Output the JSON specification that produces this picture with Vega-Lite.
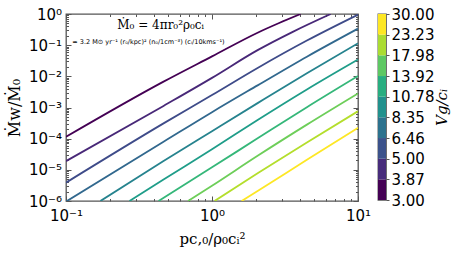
{
  "$schema": "https://vega.github.io/schema/vega-lite/v6.json",
  "padding": {"left": 5, "top": 6, "right": 5, "bottom": 5},
  "config": {
    "view": {"stroke": "#555", "strokeWidth": 1.3},
    "font": "DejaVu Sans",
    "axis": {"domain": false, "grid": false, "labelFont": "DejaVu Sans", "labelFontSize": 15, "labelColor": "#000", "tickColor": "#555", "tickWidth": 1, "titleFont": "DejaVu Serif", "titleFontWeight": "normal", "titleColor": "#000", "titleFontSize": 16}
  },
  "spacing": 5,
  "resolve": {"scale": {"color": "independent"}},
  "hconcat": [
    {
      "width": 292,
      "height": 187,
      "data": {"values": [
        {"v": 3, "x": 0.1, "y": 0.0001148}, {"v": 3, "x": 0.4656, "y": 0.00676}, {"v": 3, "x": 1, "y": 0.0437}, {"v": 3, "x": 2.053, "y": 0.251}, {"v": 3, "x": 2.884, "y": 0.513}, {"v": 3, "x": 4.046, "y": 1},
        {"v": 3.87, "x": 0.1, "y": 0.00001905}, {"v": 3.87, "x": 0.4656, "y": 0.001122}, {"v": 3.87, "x": 1, "y": 0.00891}, {"v": 3.87, "x": 2.053, "y": 0.0692}, {"v": 3.87, "x": 3.548, "y": 0.263}, {"v": 3.87, "x": 6.501, "y": 1},
        {"v": 5, "x": 0.1, "y": 0.00000389}, {"v": 5, "x": 0.4656, "y": 0.000309}, {"v": 5, "x": 1, "y": 0.00251}, {"v": 5, "x": 2.053, "y": 0.0186}, {"v": 5, "x": 4.467, "y": 0.141}, {"v": 5, "x": 10, "y": 0.955},
        {"v": 6.46, "x": 0.1, "y": 0.000000955}, {"v": 6.46, "x": 0.4656, "y": 0.0000794}, {"v": 6.46, "x": 1, "y": 0.000708}, {"v": 6.46, "x": 2.053, "y": 0.00513}, {"v": 6.46, "x": 4.467, "y": 0.0427}, {"v": 6.46, "x": 10, "y": 0.339},
        {"v": 8.35, "x": 0.1722, "y": 0.000001}, {"v": 8.35, "x": 0.4656, "y": 0.00001905}, {"v": 8.35, "x": 1, "y": 0.0001738}, {"v": 8.35, "x": 2.053, "y": 0.00138}, {"v": 8.35, "x": 4.467, "y": 0.01259}, {"v": 8.35, "x": 10, "y": 0.1148},
        {"v": 10.78, "x": 0.2723, "y": 0.000001}, {"v": 10.78, "x": 0.4656, "y": 0.0000049}, {"v": 10.78, "x": 1, "y": 0.0000457}, {"v": 10.78, "x": 2.053, "y": 0.000398}, {"v": 10.78, "x": 4.467, "y": 0.0038}, {"v": 10.78, "x": 10, "y": 0.0347},
        {"v": 13.92, "x": 0.4305, "y": 0.000001}, {"v": 13.92, "x": 1, "y": 0.00001202}, {"v": 13.92, "x": 2.053, "y": 0.0001023}, {"v": 13.92, "x": 4.467, "y": 0.001023}, {"v": 13.92, "x": 10, "y": 0.01023},
        {"v": 17.98, "x": 0.6855, "y": 0.000001}, {"v": 17.98, "x": 1, "y": 0.00000309}, {"v": 17.98, "x": 2.053, "y": 0.0000282}, {"v": 17.98, "x": 4.467, "y": 0.000282}, {"v": 17.98, "x": 10, "y": 0.00282},
        {"v": 23.23, "x": 1.042, "y": 0.000001}, {"v": 23.23, "x": 2.053, "y": 0.00000776}, {"v": 23.23, "x": 4.467, "y": 0.0000759}, {"v": 23.23, "x": 10, "y": 0.000759},
        {"v": 30, "x": 1.596, "y": 0.000001}, {"v": 30, "x": 2.053, "y": 0.00000209}, {"v": 30, "x": 4.467, "y": 0.0000209}, {"v": 30, "x": 10, "y": 0.000224}
      ]},
      "layer": [
        {
          "mark": {"type": "line", "strokeWidth": 1.8, "clip": true, "interpolate": "monotone"},
          "encoding": {
            "x": {"field": "x", "type": "quantitative", "scale": {"type": "log", "domain": [0.1, 10]},
              "axis": {"orient": "bottom", "title": "pc,₀/ρ₀cᵢ²", "titleFontSize": 15, "titlePadding": 5,
                "values": [0.1, 0.2, 0.3, 0.4, 0.5, 0.6, 0.7, 0.8, 0.9, 1, 2, 3, 4, 5, 6, 7, 8, 9, 10],
                "labelExpr": "datum.value == 0.1 ? '10⁻¹' : datum.value == 1 ? '10⁰' : datum.value == 10 ? '10¹' : ''",
                "tickSize": {"condition": {"test": "datum.value == 0.1 || datum.value == 1 || datum.value == 10", "value": -5}, "value": -2.5},
                "labelPadding": 12.5, "labelFlush": false, "labelOverlap": false}},
            "y": {"field": "y", "type": "quantitative", "scale": {"type": "log", "domain": [0.000001, 1]},
              "axis": {"orient": "left", "title": "Ṁw/Ṁ₀", "titlePadding": 6,
                "values": [0.000001, 0.000002, 0.000003, 0.000004, 0.000005, 0.000006, 0.000007, 0.000008, 0.000009, 0.00001, 0.00002, 0.00003, 0.00004, 0.00005, 0.00006, 0.00007, 0.00008, 0.00009, 0.0001, 0.0002, 0.0003, 0.0004, 0.0005, 0.0006, 0.0007, 0.0008, 0.0009, 0.001, 0.002, 0.003, 0.004, 0.005, 0.006, 0.007, 0.008, 0.009, 0.01, 0.02, 0.03, 0.04, 0.05, 0.06, 0.07, 0.08, 0.09, 0.1, 0.2, 0.3, 0.4, 0.5, 0.6, 0.7, 0.8, 0.9, 1],
                "labelExpr": "abs(log(datum.value)/LN10 - round(log(datum.value)/LN10)) < 0.001 ? ['10⁻⁶','10⁻⁵','10⁻⁴','10⁻³','10⁻²','10⁻¹','10⁰'][round(log(datum.value)/LN10) + 6] : ''",
                "tickSize": {"condition": {"test": "abs(log(datum.value)/LN10 - round(log(datum.value)/LN10)) < 0.001", "value": -5}, "value": -2.5},
                "labelPadding": 9.5, "labelFlush": false, "labelOverlap": false}},
            "color": {"field": "v", "type": "quantitative", "scale": {"type": "log", "scheme": "viridis"}, "legend": null},
            "detail": {"field": "v", "type": "nominal"}
          }
        },
        {
          "mark": {"type": "point", "opacity": 0},
          "encoding": {
            "x": {"field": "x", "type": "quantitative",
              "axis": {"orient": "top", "title": null, "labels": false,
                "values": [0.1, 0.2, 0.3, 0.4, 0.5, 0.6, 0.7, 0.8, 0.9, 1, 2, 3, 4, 5, 6, 7, 8, 9, 10],
                "tickSize": {"condition": {"test": "datum.value == 0.1 || datum.value == 1 || datum.value == 10", "value": -5}, "value": -2.5}}},
            "y": {"field": "y", "type": "quantitative",
              "axis": {"orient": "right", "title": null, "labels": false,
                "values": [0.000001, 0.000002, 0.000003, 0.000004, 0.000005, 0.000006, 0.000007, 0.000008, 0.000009, 0.00001, 0.00002, 0.00003, 0.00004, 0.00005, 0.00006, 0.00007, 0.00008, 0.00009, 0.0001, 0.0002, 0.0003, 0.0004, 0.0005, 0.0006, 0.0007, 0.0008, 0.0009, 0.001, 0.002, 0.003, 0.004, 0.005, 0.006, 0.007, 0.008, 0.009, 0.01, 0.02, 0.03, 0.04, 0.05, 0.06, 0.07, 0.08, 0.09, 0.1, 0.2, 0.3, 0.4, 0.5, 0.6, 0.7, 0.8, 0.9, 1],
                "tickSize": {"condition": {"test": "abs(log(datum.value)/LN10 - round(log(datum.value)/LN10)) < 0.001", "value": -5}, "value": -2.5}}}
          }
        },
        {
          "data": {"values": [{}]},
          "mark": {"type": "text", "font": "DejaVu Serif", "fontSize": 12, "color": "#000"},
          "encoding": {
            "x": {"datum": 0.445, "type": "quantitative", "axis": null},
            "y": {"datum": 0.43, "type": "quantitative", "axis": null},
            "text": {"value": "Ṁ₀ = 4πr₀²ρ₀cᵢ"}
          }
        },
        {
          "data": {"values": [{}]},
          "mark": {"type": "text", "font": "DejaVu Sans", "fontSize": 6.5, "color": "#000"},
          "encoding": {
            "x": {"datum": 0.367, "type": "quantitative", "axis": null},
            "y": {"datum": 0.122, "type": "quantitative", "axis": null},
            "text": {"value": "≃ 3.2 M⊙ yr⁻¹ (r₀/kpc)² (n₀/1cm⁻³) (cᵢ/10kms⁻¹)"}
          }
        }
      ],
      "resolve": {"axis": {"x": "independent", "y": "independent"}}
    },
    {
      "width": 8,
      "height": 186,
      "data": {"values": [
        {"lo": 3, "hi": 3.87}, {"lo": 3.87, "hi": 5}, {"lo": 5, "hi": 6.46}, {"lo": 6.46, "hi": 8.35}, {"lo": 8.35, "hi": 10.78},
        {"lo": 10.78, "hi": 13.92}, {"lo": 13.92, "hi": 17.98}, {"lo": 17.98, "hi": 23.23}, {"lo": 23.23, "hi": 30}
      ]},
      "mark": {"type": "rect"},
      "encoding": {
        "y": {"field": "lo", "type": "quantitative", "scale": {"type": "log", "domain": [3, 30]},
          "axis": {"orient": "right", "values": [3, 3.87, 5, 6.46, 8.35, 10.78, 13.92, 17.98, 23.23, 30], "format": ".2f",
            "title": "Vg/cᵢ", "titleFontStyle": "italic", "titleFontSize": 15, "titleAngle": 270, "titleBaseline": "top", "titlePadding": 1, "tickSize": 3, "labelPadding": 2, "labelFlush": false, "labelOverlap": false}},
        "y2": {"field": "hi"},
        "color": {"field": "lo", "type": "quantitative", "scale": {"type": "log", "scheme": "viridis", "domain": [3, 23.23]}, "legend": null}
      }
    }
  ]
}
